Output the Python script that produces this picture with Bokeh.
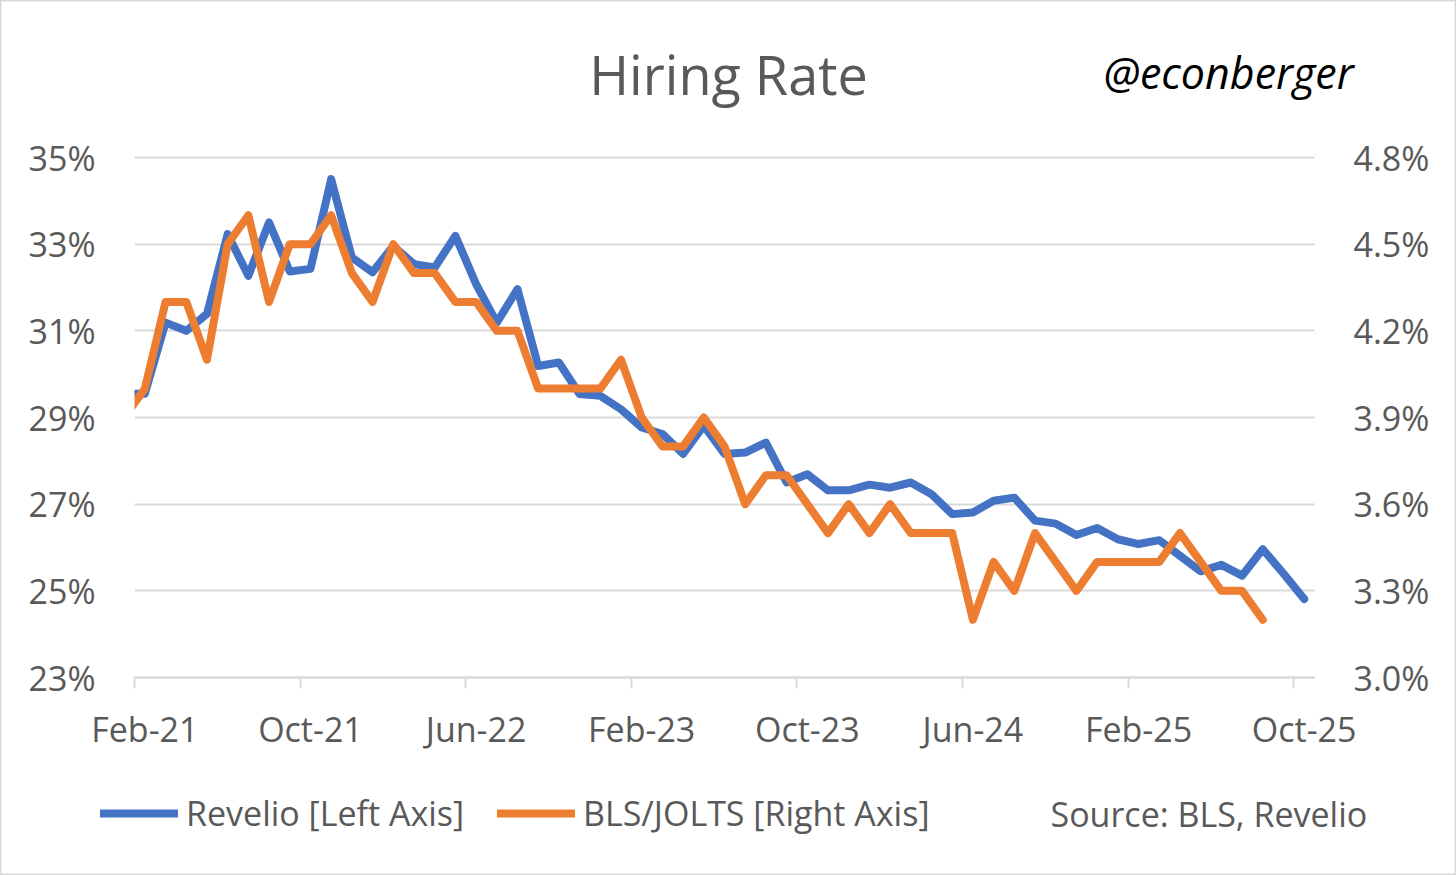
import pandas as pd
from bokeh.plotting import figure
from bokeh.models import (Range1d, LinearAxis, FixedTicker, PrintfTickFormatter,
                          Legend, LegendItem, Label, ColumnDataSource, Grid, BoxAnnotation)
from bokeh.embed import file_html
from bokeh.resources import INLINE

# ---------------- data ----------------
months = pd.period_range("2021-01", "2025-10", freq="M")
month_labels = [m.strftime("%b-%y") for m in months]

# Revelio hiring rate, % (left axis), Jan-21 .. Oct-25
revelio = [
    29.55, 29.55, 31.19, 31.00, 31.39, 33.23, 32.27, 33.50, 32.37, 32.43, 34.50, 32.69,
    32.35, 32.96, 32.54, 32.46, 33.19, 32.08, 31.19, 31.96, 30.19, 30.27, 29.54, 29.50,
    29.19, 28.77, 28.62, 28.16, 28.81, 28.16, 28.19, 28.42, 27.50, 27.69, 27.32, 27.32,
    27.45, 27.38, 27.50, 27.23, 26.77, 26.81, 27.08, 27.15, 26.62, 26.55, 26.29, 26.45,
    26.19, 26.08, 26.17, 25.81, 25.45, 25.60, 25.35, 25.96, 25.40, 24.81,
]

# BLS/JOLTS hires rate, % (right axis), Jan-21 .. Aug-25
jolts = [
    3.9, 4.0, 4.3, 4.3, 4.1, 4.5, 4.6, 4.3, 4.5, 4.5, 4.6, 4.4,
    4.3, 4.5, 4.4, 4.4, 4.3, 4.3, 4.2, 4.2, 4.0, 4.0, 4.0, 4.0,
    4.1, 3.9, 3.8, 3.8, 3.9, 3.8, 3.6, 3.7, 3.7, 3.6, 3.5, 3.6,
    3.5, 3.6, 3.5, 3.5, 3.5, 3.2, 3.4, 3.3, 3.5, 3.4, 3.3, 3.4,
    3.4, 3.4, 3.4, 3.5, 3.4, 3.3, 3.3, 3.2,
]

tick_labels = ["Feb-21", "Oct-21", "Jun-22", "Feb-23", "Oct-23", "Jun-24", "Feb-25", "Oct-25"]
left_ticks = [23, 25, 27, 29, 31, 33, 35]
right_ticks = [3.0, 3.3, 3.6, 3.9, 4.2, 4.5, 4.8]
series_names = ["Revelio [Left Axis]", "BLS/JOLTS [Right Axis]"]
title_text = "Hiring Rate"
handle_text = "@econberger"
source_text = "Source: BLS, Revelio"

# month index with Feb-21 = 0 (Jan-21 sits just outside the axis and is masked)
first = month_labels.index(tick_labels[0])
last = month_labels.index(tick_labels[-1])
x_all = [i - first for i in range(len(months))]
tick_pos = [month_labels.index(t) - first for t in tick_labels]

src_rev = ColumnDataSource(dict(x=x_all[:len(revelio)], y=revelio))
src_jol = ColumnDataSource(dict(x=x_all[:len(jolts)], y=jolts))

# ---------------- layout constants (pixels) ----------------
W, H = 1456, 875
PL, PR, PT, PB = 134, 1314, 157, 677          # plot area
BLUE, ORANGE = "#4472C4", "#ED7D31"
GREY_TXT, GRID = "#595959", "#d9d9d9"
FONT, FS, LW = "Open Sans", "34px", 8

x0, x1 = -0.5, (last - first) + 0.5
ppx = (PR - PL) / (x1 - x0)
ly0, ly1 = left_ticks[0], left_ticks[-1]
ppl = (PB - PT) / (ly1 - ly0)
ry0, ry1 = right_ticks[0], right_ticks[-1]
ppr = (PB - PT) / (ry1 - ry0)

p = figure(width=W, height=H,
           x_range=Range1d(x0 - PL / ppx, x1 + (W - PR) / ppx),
           y_range=Range1d(ly0 - (H - PB) / ppl, ly1 + PT / ppl),
           x_axis_type=None, y_axis_type=None,
           output_backend="svg", toolbar_location=None, min_border=0,
           background_fill_color="white", border_fill_color="white")
p.outline_line_color = GRID          # light border round the whole chart
p.outline_line_width = 2
p.extra_y_ranges = {"right": Range1d(ry0 - (H - PB) / ppr, ry1 + PT / ppr)}

# horizontal gridlines limited to the plot area
try:
    p.add_layout(Grid(dimension=1, ticker=FixedTicker(ticks=left_ticks),
                      cross_bounds=(x0, x1), grid_line_color=GRID, grid_line_width=2))
except Exception:
    p.segment(x0=[x0] * len(left_ticks), x1=[x1] * len(left_ticks),
              y0=left_ticks, y1=left_ticks, line_color=GRID, line_width=2, level="underlay")

common = dict(major_label_text_font_size=FS, major_label_text_color=GREY_TXT,
              major_label_text_font=FONT, major_tick_out=0, major_tick_in=0)

ax_l = LinearAxis(ticker=FixedTicker(ticks=left_ticks), fixed_location=x0,
                  bounds=(ly0, ly1),
                  formatter=PrintfTickFormatter(format="%d%%"),
                  axis_line_color=None, major_tick_line_color=None,
                  minor_tick_line_color=None,
                  major_label_standoff=39, **common)
p.add_layout(ax_l, "left")

ax_r = LinearAxis(y_range_name="right", ticker=FixedTicker(ticks=right_ticks),
                  fixed_location=x1, bounds=(ry0, ry1),
                  formatter=PrintfTickFormatter(format="%.1f%%"),
                  axis_line_color=None, major_tick_line_color=None,
                  minor_tick_line_color=None,
                  major_label_standoff=39, **common)
p.add_layout(ax_r, "right")

# bottom axis: labels centred on their month, tick marks between months (minor ticks)
ax_b = LinearAxis(ticker=FixedTicker(ticks=tick_pos, minor_ticks=[t - 0.5 for t in tick_pos]),
                  fixed_location=ly0, bounds=(x0, x1),
                  major_label_overrides={t: l for t, l in zip(tick_pos, tick_labels)},
                  axis_line_color=GRID, axis_line_width=2,
                  major_tick_line_color=None,
                  minor_tick_line_color=GRID, minor_tick_line_width=2,
                  minor_tick_out=11, minor_tick_in=0,
                  major_label_standoff=17, **common)
p.add_layout(ax_b, "below")

r_rev = p.line("x", "y", source=src_rev, line_color=BLUE, line_width=LW,
               line_join="round", line_cap="round")
r_jol = p.line("x", "y", source=src_jol, line_color=ORANGE, line_width=LW,
               line_join="round", line_cap="round", y_range_name="right")

# mask the sliver left of the first month slot (Excel clips the Jan-21 point there)
p.add_layout(BoxAnnotation(left=x0 - 1.0, right=x0, bottom=ly0 + 0.1, top=ly1 - 0.1,
                           fill_color="white", fill_alpha=1, line_color=None,
                           level="glyph"))

# legend (one per series so each sits where the reference has it)
for r, name, lx in [(r_rev, series_names[0], 100), (r_jol, series_names[1], 497)]:
    p.add_layout(Legend(items=[LegendItem(label=name, renderers=[r])],
                        location=(lx, 39), glyph_width=78, glyph_height=20,
                        label_standoff=8, padding=0, margin=0,
                        border_line_color=None, background_fill_alpha=0,
                        label_text_font_size=FS, label_text_color=GREY_TXT,
                        label_text_font=FONT))

p.add_layout(Label(x=1050, y=H - 813, x_units="screen", y_units="screen",
                   text=source_text, text_baseline="middle",
                   text_font_size=FS, text_color=GREY_TXT, text_font=FONT))
p.add_layout(Label(x=728, y=H - 73, x_units="screen", y_units="screen",
                   text=title_text, text_align="center", text_baseline="middle",
                   text_font_size="54px", text_color=GREY_TXT, text_font=FONT))
p.add_layout(Label(x=1103, y=H - 72, x_units="screen", y_units="screen",
                   text=handle_text, text_baseline="middle", text_font_style="italic",
                   text_font_size="43px", text_color="#000000", text_font=FONT))

open("out.html", "w").write(file_html(p, INLINE))
